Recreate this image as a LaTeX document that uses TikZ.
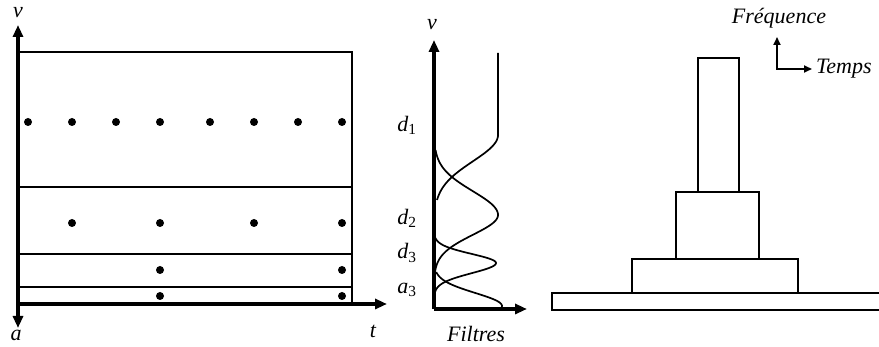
\documentclass[tikz,border=0pt]{standalone}
\usepackage{fontspec}
\setmainfont{Liberation Serif}
\usetikzlibrary{arrows.meta}
\begin{document}
\begin{tikzpicture}[x=1pt,y=-1pt,
  axis/.style={line width=3.2pt,-{Triangle[length=12pt,width=10pt]}},
  box/.style={draw,line width=1.8pt},
  dot/.style={fill,circle,inner sep=0pt,minimum size=8pt},
  lbl/.style={font=\fontsize{22}{22}\selectfont\itshape,inner sep=0pt},
  curve/.style={line width=1.7pt}]
\useasboundingbox (0,0) rectangle (879,347);
% ---------- left panel ----------
\draw[box] (18,52) rectangle (352,304);
\draw[line width=2.6pt] (18,187) -- (352,187);
\draw[box] (18,254) -- (352,254);
\draw[box] (18,287) -- (352,287);
\coordinate (O1) at (18,304);
\coordinate (Ytop) at (18,25);
\coordinate (Ybot) at (18,328);
\coordinate (Xend) at (387,304);
\draw[axis] (O1) -- (Ytop);
\draw[axis] (O1) -- (Ybot);
\draw[axis] (O1) -- (Xend);
\node[lbl] (nu1) at (18,13) {ν};
\node[lbl] (alab) at (16,335) {a};
\node[lbl] (tlab) at (373,331) {t};
\foreach \i/\x in {1/28,2/72,3/116,4/160,5/210,6/254,7/298,8/342}
  \node[dot] (r1d\i) at (\x,122) {};
\foreach \i/\x in {1/72,2/160,3/254,4/342}
  \node[dot] (r2d\i) at (\x,223) {};
\foreach \i/\x in {1/160,2/342}
  \node[dot] (r3d\i) at (\x,270) {};
\foreach \i/\x in {1/160,2/342}
  \node[dot] (r4d\i) at (\x,296) {};
% ---------- middle panel ----------
\coordinate (O2) at (434,309);
\coordinate (Vtop) at (434,40);
\coordinate (Hend) at (527,309);
\draw[axis] (O2) -- (Vtop);
\draw[axis] (O2) -- (Hend);
\node[lbl] (nu2) at (432,25) {ν};
\node[lbl] (filt) at (476,334) {Filtres};
\node[lbl] (d1) at (407,125) {d\textsubscript{\upshape 1}};
\node[lbl] (d2) at (407,218) {d\textsubscript{\upshape 2}};
\node[lbl] (d3) at (407,253) {d\textsubscript{\upshape 3}};
\node[lbl] (a3) at (407,290) {a\textsubscript{\upshape 3}};
% filters
\draw[curve] (498,53) -- (498,135)
  -- plot[domain=135:200,samples=50] ({434+64*exp(((\x-135)^2)/(-1388))},\x);
\draw[curve] plot[domain=150:215,samples=50] ({434+64*exp(((\x-215)^2)/(-1136))},\x)
  -- plot[domain=215:272,samples=50] ({434+64*exp(((\x-215)^2)/(-786))},\x);
\draw[curve] plot[domain=238:263,samples=40] ({434+62*exp(((\x-263)^2)/(-166))},\x)
  -- plot[domain=263:292,samples=40] ({434+62*exp(((\x-263)^2)/(-208))},\x);
\draw[curve] plot[domain=272:308,samples=40] ({434+68*exp(((\x-306)^2)/(-340))},\x);
% ---------- right panel ----------
\draw[box] (698,58) rectangle (739,192);
\draw[box] (676,192) rectangle (759,259);
\draw[box] (632,259) rectangle (798,293);
\draw[box] (552,293) rectangle (882,310);
\coordinate (C) at (777,69);
\coordinate (Fup) at (777,37);
\coordinate (Tr) at (812,69);
\draw[line width=1.8pt,{Triangle[length=8pt,width=7pt]}-{Triangle[length=8pt,width=7pt]}] (Fup) -- (C) -- (Tr);
\node[lbl] (freq) at (779,18) {Fréquence};
\node[lbl,anchor=west] (temps) at (816,69) {Temps};
\end{tikzpicture}
\end{document}
